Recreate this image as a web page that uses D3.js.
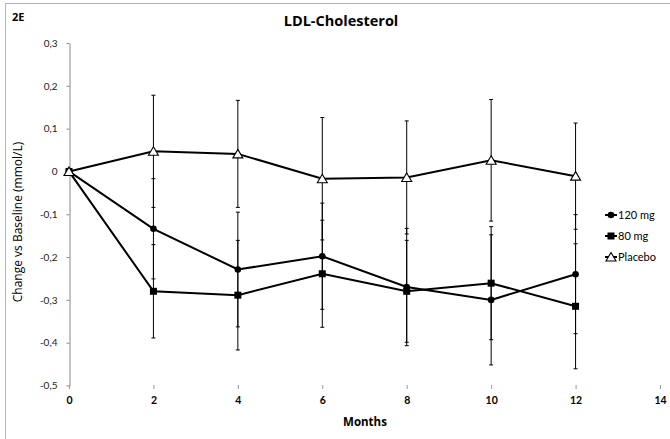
<!DOCTYPE html>
<html>
<head>
<meta charset="utf-8">
<script src="https://cdnjs.cloudflare.com/ajax/libs/d3/7.8.5/d3.min.js"></script>
<style>
body { margin: 0; background: #fff; }
svg { display: block; }
text { font-family: Lato, "Open Sans", sans-serif; }
</style>
</head>
<body>
<svg width="670" height="439"></svg>
<script>
// values (mean change, error bar half-width)
var months = [0, 2, 4, 6, 8, 10, 12];
var mg120 = [0, -0.134, -0.229, -0.198, -0.270, -0.300, -0.240];
var mg120Err = [0, 0.117, 0.134, 0.124, 0.137, 0.152, 0.139];
var mg80 = [0, -0.280, -0.289, -0.239, -0.280, -0.261, -0.315];
var mg80Err = [0, 0.109, 0.128, 0.125, 0.119, 0.132, 0.146];
var placebo = [0, 0.047, 0.041, -0.017, -0.014, 0.026, -0.011];
var placeboErr = [0, 0.131, 0.125, 0.143, 0.132, 0.142, 0.124];
var seriesNames = ["120 mg", "80 mg", "Placebo"];
var xTicks = [0, 2, 4, 6, 8, 10, 12, 14];
var yTicks = [0.3, 0.2, 0.1, 0, -0.1, -0.2, -0.3, -0.4, -0.5];

var series = [
  {name: seriesNames[0], values: mg120, err: mg120Err, marker: "circle"},
  {name: seriesNames[1], values: mg80, err: mg80Err, marker: "square"},
  {name: seriesNames[2], values: placebo, err: placeboErr, marker: "triangle"}
];

var svg = d3.select("svg");

// outer chart border
svg.append("rect")
  .attr("x", 5.5).attr("y", 3.5)
  .attr("width", 700).attr("height", 500)
  .attr("fill", "none").attr("stroke", "#b5b5b5");

var x = d3.scaleLinear().domain([0, 14]).range([69, 660]);
var y = d3.scaleLinear().domain([-0.5, 0.3]).range([385.5, 43]);

// y axis
var yAxis = svg.append("g")
  .attr("transform", "translate(69.5,0)")
  .call(d3.axisLeft(y).tickValues(yTicks).tickSize(3).tickSizeOuter(0).tickPadding(9)
    .tickFormat(function(d) { return d === 0 ? "0" : d.toFixed(1).replace(".", ","); }));
yAxis.select(".domain").attr("stroke", "#8a8a8a");
yAxis.selectAll(".tick line").attr("stroke", "#8a8a8a");
yAxis.selectAll("text").attr("font-size", 10).attr("fill", "#222")
  .style("font-family", "Lato, sans-serif");

// x axis (no line, only short ticks)
var xAxis = svg.append("g")
  .attr("transform", "translate(0,385)")
  .call(d3.axisBottom(x).tickValues(xTicks).tickSize(4).tickSizeOuter(0).tickPadding(8));
xAxis.select(".domain").remove();
xAxis.selectAll(".tick line").attr("stroke", "#999");
xAxis.selectAll("text").attr("font-size", 10.5).attr("font-weight", "bold").attr("fill", "#000")
  .style("font-family", "Lato, sans-serif");

// titles
svg.append("text").attr("x", 12).attr("y", 21)
  .style("font-family", "'Open Sans', sans-serif")
  .attr("font-size", 11).attr("font-weight", "bold").text("2E");
svg.append("text").attr("x", 341).attr("y", 26).attr("text-anchor", "middle")
  .style("font-family", "'Open Sans', sans-serif")
  .attr("font-size", 14.5).attr("font-weight", "bold").text("LDL-Cholesterol");
svg.append("text").attr("x", 365).attr("y", 426).attr("text-anchor", "middle")
  .style("font-family", "'Open Sans', sans-serif")
  .attr("font-size", 11.5).attr("font-weight", "bold").text("Months");
svg.append("text")
  .attr("transform", "translate(22,222) rotate(-90)")
  .style("font-family", "'Open Sans', sans-serif")
  .attr("text-anchor", "middle").attr("font-size", 12)
  .text("Change vs Baseline (mmol/L)");

function drawMarker(g, type, cx, cy) {
  if (type === "circle") {
    g.append("circle").attr("cx", cx).attr("cy", cy).attr("r", 3.3).attr("fill", "#000");
  } else if (type === "square") {
    g.append("rect").attr("x", cx - 3.5).attr("y", cy - 3.5)
      .attr("width", 7).attr("height", 7).attr("fill", "#000");
  } else {
    g.append("path")
      .attr("d", "M" + cx + "," + (cy - 4.5) + "L" + (cx + 5) + "," + (cy + 4) + "L" + (cx - 5) + "," + (cy + 4) + "Z")
      .attr("fill", "#fff").attr("stroke", "#000").attr("stroke-width", 1.1);
  }
}

var line = d3.line()
  .x(function(d) { return x(d.m); })
  .y(function(d) { return y(d.v); });

series.forEach(function(s) {
  var pts = months.map(function(m, i) { return {m: m, v: s.values[i], e: s.err[i]}; });
  var g = svg.append("g");

  // error bars
  pts.filter(function(d) { return d.e > 0; }).forEach(function(d) {
    var cx = x(d.m);
    g.append("line").attr("x1", cx).attr("x2", cx)
      .attr("y1", y(d.v + d.e)).attr("y2", y(d.v - d.e))
      .attr("stroke", "#000").attr("stroke-width", 1);
    [d.v + d.e, d.v - d.e].forEach(function(v) {
      g.append("line").attr("x1", cx - 2).attr("x2", cx + 2)
        .attr("y1", y(v)).attr("y2", y(v))
        .attr("stroke", "#000").attr("stroke-width", 1);
    });
  });

  g.append("path").datum(pts)
    .attr("d", line)
    .attr("fill", "none").attr("stroke", "#000").attr("stroke-width", 2);

  pts.forEach(function(d) { drawMarker(g, s.marker, x(d.m), y(d.v)); });
});

// legend
var legend = svg.append("g");
series.forEach(function(s, i) {
  var ly = 215 + i * 21;
  legend.append("line").attr("x1", 605).attr("x2", 617)
    .attr("y1", ly).attr("y2", ly).attr("stroke", "#000").attr("stroke-width", 2);
  drawMarker(legend, s.marker, 611, ly);
  legend.append("text").attr("x", 618).attr("y", ly + 4)
    .attr("font-size", 11).text(s.name);
});
</script>
</body>
</html>
